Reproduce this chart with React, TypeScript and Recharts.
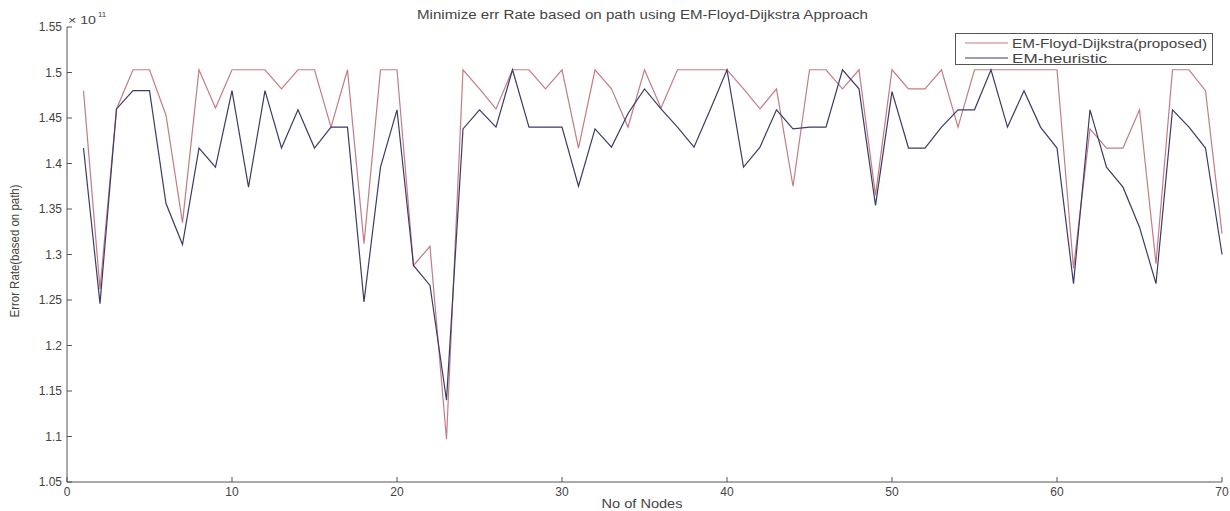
import { LineChart, Line, XAxis, YAxis, Legend } from 'recharts';

// node index on x, error rate in units of 1e11
const nodes = Array.from({ length: 70 }, (_, i) => i + 1);

const proposed = [
  1.48, 1.262, 1.46, 1.503, 1.503, 1.453, 1.335, 1.503, 1.461, 1.503,
  1.503, 1.503, 1.482, 1.503, 1.503, 1.44, 1.503, 1.312, 1.503, 1.503,
  1.288, 1.309, 1.097, 1.503, 1.482, 1.46, 1.503, 1.503, 1.482, 1.503,
  1.417, 1.503, 1.482, 1.44, 1.503, 1.461, 1.503, 1.503, 1.503, 1.503,
  1.482, 1.46, 1.482, 1.375, 1.503, 1.503, 1.482, 1.503, 1.365, 1.503,
  1.482, 1.482, 1.503, 1.44, 1.503, 1.503, 1.503, 1.503, 1.503, 1.503,
  1.285, 1.438, 1.417, 1.417, 1.459, 1.29, 1.503, 1.503, 1.48, 1.323,
];

const heuristic = [
  1.417, 1.246, 1.46, 1.48, 1.48, 1.356, 1.311, 1.417, 1.396, 1.48,
  1.374, 1.48, 1.417, 1.459, 1.417, 1.44, 1.44, 1.248, 1.396, 1.459,
  1.288, 1.266, 1.14, 1.438, 1.459, 1.44, 1.503, 1.44, 1.44, 1.44,
  1.375, 1.438, 1.418, 1.455, 1.482, 1.46, 1.44, 1.418, 1.46, 1.503,
  1.396, 1.418, 1.459, 1.438, 1.44, 1.44, 1.503, 1.482, 1.354, 1.479,
  1.417, 1.417, 1.44, 1.459, 1.459, 1.503, 1.44, 1.48, 1.44, 1.417,
  1.268, 1.459, 1.396, 1.374, 1.33, 1.268, 1.459, 1.44, 1.417, 1.3,
];

const xTicks = [0, 10, 20, 30, 40, 50, 60, 70];
const yTicks = [1.05, 1.1, 1.15, 1.2, 1.25, 1.3, 1.35, 1.4, 1.45, 1.5, 1.55];

const data = nodes.map((n, i) => ({ node: n, proposed: proposed[i], heuristic: heuristic[i] }));

const FONT = '"Liberation Sans", Arial, sans-serif';
const AXIS = '#555';
const TEXT = '#444';
const RED = '#c47c84';
const BLUE = '#3b3b68';

const BottomTick = ({ x, y, payload }: any) => (
  <g>
    <line x1={x} y1={y} x2={x} y2={y - 5} stroke={AXIS} />
    <text x={x} y={y + 14} textAnchor="middle" fontSize={12} fontFamily={FONT} fill={TEXT}>
      {payload.value}
    </text>
  </g>
);

const LeftTick = ({ x, y, payload }: any) => (
  <g>
    <line x1={x} y1={y} x2={x + 5} y2={y} stroke={AXIS} />
    <text x={x - 5} y={y + 4} textAnchor="end" fontSize={12} fontFamily={FONT} fill={TEXT}>
      {String(payload.value)}
    </text>
  </g>
);

const TopTick = ({ x, y }: any) => <line x1={x} y1={y} x2={x} y2={y + 5} stroke={AXIS} />;
const RightTick = ({ x, y }: any) => <line x1={x} y1={y} x2={x - 5} y2={y} stroke={AXIS} />;

const LegendBox = ({ payload }: any) => {
  const items = payload || [];
  const lens: Record<string, number> = { proposed: 195, heuristic: 95 };
  return (
    <svg width={258} height={32} style={{ display: 'block' }}>
      <rect x={0.5} y={0.5} width={257} height={31} fill="#fff" stroke={AXIS} />
      {items.map((it: any, i: number) => {
        const cy = 10 + i * 15;
        return (
          <g key={it.value}>
            <line x1={10} y1={cy} x2={53} y2={cy} stroke={it.color} strokeWidth={1.2} />
            <text
              x={57}
              y={cy + 5}
              fontSize={13}
              fontFamily={FONT}
              fill={TEXT}
              textLength={lens[it.dataKey]}
              lengthAdjust="spacingAndGlyphs"
            >
              {it.value}
            </text>
          </g>
        );
      })}
    </svg>
  );
};

export default function App() {
  return (
    <div style={{ position: 'absolute', left: 0, top: 0, width: 1230, height: 511 }}>
      <LineChart width={1230} height={511} data={data} margin={{ top: 27, right: 8, bottom: 0, left: 0 }}>
        <XAxis
          xAxisId="b"
          dataKey="node"
          type="number"
          domain={[0, 70]}
          ticks={xTicks}
          height={29}
          tickSize={0}
          tickMargin={0}
          tick={<BottomTick />}
          axisLine={{ stroke: AXIS }}
          interval={0}
        />
        <XAxis
          xAxisId="t"
          orientation="top"
          dataKey="node"
          type="number"
          domain={[0, 70]}
          ticks={xTicks}
          height={0}
          tickSize={0}
          tickMargin={0}
          tick={<TopTick />}
          axisLine={{ stroke: AXIS }}
          interval={0}
        />
        <YAxis
          yAxisId="l"
          type="number"
          domain={[1.05, 1.55]}
          ticks={yTicks}
          width={67}
          tickSize={0}
          tickMargin={0}
          tick={<LeftTick />}
          axisLine={{ stroke: AXIS }}
          interval={0}
        />
        <YAxis
          yAxisId="r"
          orientation="right"
          type="number"
          domain={[1.05, 1.55]}
          ticks={yTicks}
          width={0}
          tickSize={0}
          tickMargin={0}
          tick={<RightTick />}
          axisLine={{ stroke: AXIS }}
          interval={0}
        />
        <Legend
          layout="vertical"
          align="center"
          verticalAlign="middle"
          content={<LegendBox />}
          wrapperStyle={{ left: 955, top: 33, width: 258, height: 32 }}
        />
        <Line
          xAxisId="b"
          yAxisId="l"
          type="linear"
          dataKey="proposed"
          name="EM-Floyd-Dijkstra(proposed)"
          stroke={RED}
          strokeWidth={1.2}
          dot={false}
          isAnimationActive={false}
        />
        <Line
          xAxisId="b"
          yAxisId="l"
          type="linear"
          dataKey="heuristic"
          name="EM-heuristic"
          stroke={BLUE}
          strokeWidth={1.2}
          dot={false}
          isAnimationActive={false}
        />
      </LineChart>
      <svg
        width={1230}
        height={511}
        style={{ position: 'absolute', left: 0, top: 0, pointerEvents: 'none' }}
      >
        <text x={417} y={19} fontSize={12} fontFamily={FONT} fill={TEXT} textLength={451} lengthAdjust="spacingAndGlyphs">
          Minimize err Rate based on path using EM-Floyd-Dijkstra Approach
        </text>
        <text x={68} y={24} fontSize={11} fontFamily={FONT} fill={TEXT} textLength={28} lengthAdjust="spacingAndGlyphs">
          × 10
        </text>
        <text x={98} y={17} fontSize={8} fontFamily={FONT} fill={TEXT}>
          11
        </text>
        <text x={642} y={508} textAnchor="middle" fontSize={12.5} fontFamily={FONT} fill={TEXT} textLength={81} lengthAdjust="spacingAndGlyphs">
          No of Nodes
        </text>
        <text
          x={0}
          y={0}
          transform="translate(19,251) rotate(-90)"
          textAnchor="middle"
          fontSize={12}
          fontFamily={FONT}
          fill={TEXT}
          textLength={133}
          lengthAdjust="spacingAndGlyphs"
        >
          Error Rate(based on path)
        </text>
      </svg>
    </div>
  );
}
